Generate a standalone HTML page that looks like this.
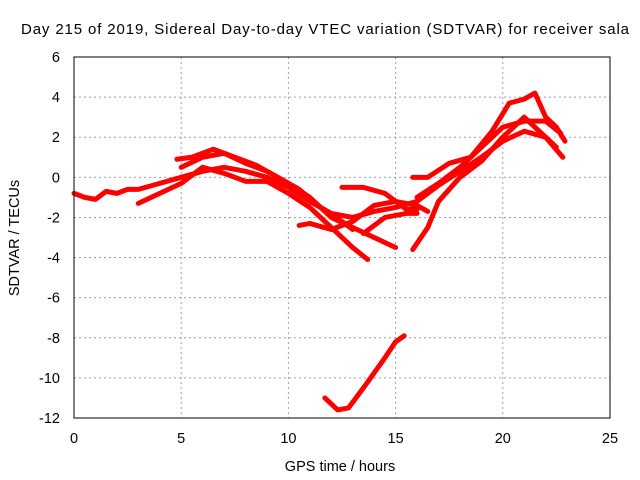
<!DOCTYPE html>
<html><head><meta charset="utf-8"><style>
body{margin:0;background:#fff;}
svg{display:block;font-family:"Liberation Sans",sans-serif;}
</style></head><body>
<svg id="chart" width="640" height="480">
<text x="325" y="34" text-anchor="middle" font-size="15" textLength="608" lengthAdjust="spacing">Day 215 of 2019, Sidereal Day-to-day VTEC variation (SDTVAR) for receiver sala</text>
<text x="340" y="471" text-anchor="middle" font-size="14.5">GPS time / hours</text>
<text transform="translate(19,238) rotate(-90)" text-anchor="middle" font-size="14.5">SDTVAR / TECUs</text>
<g id="grid"></g><g id="series"></g>
<rect x="74" y="57" width="536" height="361" fill="none" stroke="#000"/>
</svg>
<script>
const xTicks=[0,5,10,15,20,25];
const yTicks=[-12,-10,-8,-6,-4,-2,0,2,4,6];
const trace1=[[0,-0.8],[0.5,-1],[1,-1.1],[1.5,-0.7],[2,-0.8],[2.5,-0.6],[3,-0.6],[4,-0.3],[5,0],[6,0.3],[7,0.5],[8,0.3],[9,0],[10,-0.5],[11,-1.2],[12,-1.8],[13,-2],[14,-1.7],[15,-1.5],[16,-1.2],[17,-0.4],[18,0.3],[19,1],[20,1.8],[21,2.3],[22,2],[22.8,1]];
const trace2=[[3,-1.3],[4,-0.8],[5,-0.3],[6,0.5],[7,0.2],[8,-0.2],[9,-0.2],[10,-0.8],[11,-1.5],[12,-2.5],[13,-3.5],[13.7,-4.1]];
const trace3=[[4.8,0.9],[5.5,1],[6.5,1.4],[7.5,1],[8.5,0.6],[9.5,0],[10.5,-0.6],[11.5,-1.5],[12.5,-2.2],[13,-2.6]];
const trace4=[[5,0.5],[6,1],[7,1.2],[8,0.7],[9,0.3],[10,-0.3],[11,-1],[12,-2],[13,-2.5],[14,-3],[15,-3.5]];
const trace5=[[10.5,-2.4],[11,-2.3],[12,-2.6],[13,-2.2],[14,-1.4],[15,-1.2],[16,-1.4],[16.5,-1.7]];
const trace6=[[12.5,-0.5],[13.5,-0.5],[14.5,-0.8],[15,-1.2],[15.5,-1.6],[16,-1.6]];
const trace7=[[15.8,-3.6],[16.5,-2.5],[17,-1.2],[18,0],[19,0.8],[20,2],[21,3],[21.8,2.2],[22.5,1.5]];
const trace8=[[15.8,0],[16.5,0],[17.5,0.7],[18.5,1],[19.5,2.3],[20.3,3.7],[21,3.9],[21.5,4.2],[22,3],[22.5,2.5],[22.9,1.8]];
const trace9=[[16,-1],[17,-0.3],[18,0.5],[19,1.5],[20,2.5],[21,2.8],[22,2.8],[22.7,2.2]];
const trace10=[[13.5,-2.8],[14.5,-2],[15.5,-1.8],[16,-1.8]];
const trace11=[[11.7,-11],[12.3,-11.6],[12.8,-11.5],[13.5,-10.5],[14.5,-9],[15,-8.2],[15.4,-7.9]];
const traces=[trace1,trace2,trace3,trace4,trace5,trace6,trace7,trace8,trace9,trace10,trace11];
const NS="http://www.w3.org/2000/svg";
function sx(v){return 74+v/25*536;}
function sy(v){return 418-(v+12)/18*361;}
const grid=document.getElementById('grid');
function mk(t,a,p){const e=document.createElementNS(NS,t);for(const k in a)e.setAttribute(k,a[k]);p.appendChild(e);return e;}
xTicks.forEach(v=>{
 const x=sx(v);
 if(v>0&&v<25){const g=mk('line',{x1:x,x2:x,y1:57,y2:418,stroke:'#a0a0a0','stroke-dasharray':'2,3'},grid);
 
 }
 const t=mk('text',{x:x,y:443,'text-anchor':'middle','font-size':14.5},grid);t.textContent=v;
 
 
});
yTicks.forEach(v=>{
 const y=sy(v);
 if(v>-12&&v<6){const g=mk('line',{x1:74,x2:610,y1:y,y2:y,stroke:'#a0a0a0','stroke-dasharray':'2,3'},grid);
 
 }
 const t=mk('text',{x:60,y:y+5,'text-anchor':'end','font-size':14.5},grid);t.textContent=v;
 
 
});
const ser=document.getElementById('series');
traces.forEach(tr=>{
 const p=mk('polyline',{points:tr.map(d=>sx(d[0])+','+sy(d[1])).join(' '),fill:'none',stroke:'#ff0000','stroke-width':5,'stroke-linejoin':'round','stroke-linecap':'round'},ser);
 
 
});
</script>
</body></html>
